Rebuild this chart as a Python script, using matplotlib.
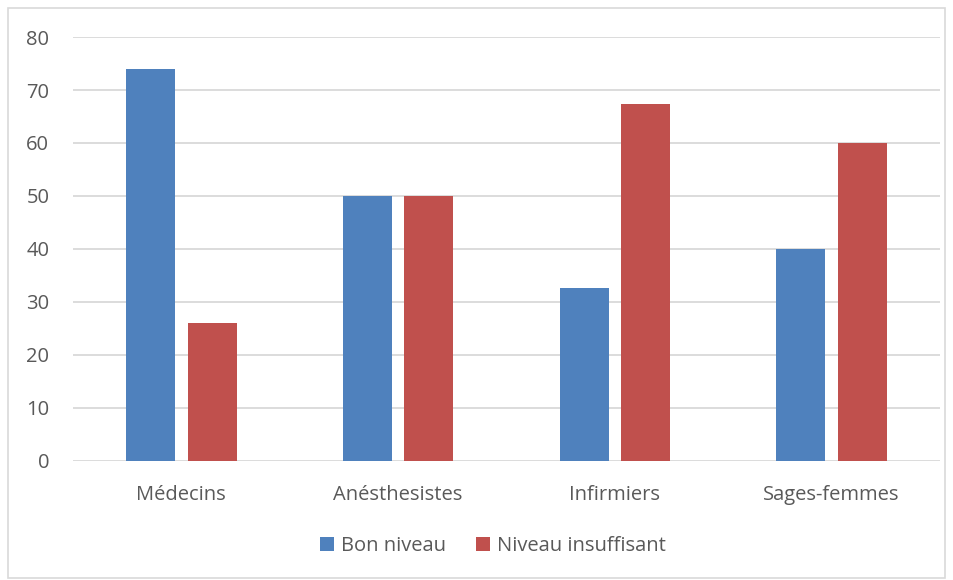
import numpy as np
import matplotlib.pyplot as plt
from matplotlib.patches import Rectangle

plt.rcParams['font.family'] = ['Open Sans', 'DejaVu Sans']

# Données
categories = ["Médecins", "Anésthesistes", "Infirmiers", "Sages-femmes"]
bon_niveau = [74, 50, 32.7, 40]
niveau_insuffisant = [26, 50, 67.3, 60]
series_names = ["Bon niveau", "Niveau insuffisant"]
yticks = [0, 10, 20, 30, 40, 50, 60, 70, 80]

bleu = "#4F81BD"
rouge = "#C0504D"
gris_texte = "#595959"
gris_grille = "#D9D9D9"

fig = plt.figure(figsize=(9.54, 5.8), dpi=100)
ax = fig.add_axes([0.0765, 0.2052, 0.9088, 0.7310])

x = np.arange(len(categories))
w = 0.226
dx = 0.142
ax.bar(x - dx, bon_niveau, w, color=bleu, label=series_names[0], zorder=3)
ax.bar(x + dx, niveau_insuffisant, w, color=rouge, label=series_names[1], zorder=3)

ax.set_xlim(-0.5, len(categories) - 0.5)
ax.set_ylim(0, 80)
ax.set_yticks(yticks)
ax.set_xticks(x)
ax.set_xticklabels(categories)
ax.grid(axis='y', color=gris_grille, linewidth=1.3, zorder=0)
for s in ax.spines.values():
    s.set_visible(False)
ax.tick_params(axis='both', length=0, labelsize=14.5, colors=gris_texte)
ax.tick_params(axis='y', pad=17)
ax.tick_params(axis='x', pad=17)

# cadre du graphique
fig.patches.append(Rectangle((8 / 954, 2 / 580), 937 / 954, 570 / 580,
                             transform=fig.transFigure, fill=False,
                             edgecolor=gris_grille, linewidth=1.2))

leg = fig.legend(loc='center', bbox_to_anchor=(493 / 954, 1 - 546 / 580), ncol=2,
                 frameon=False, fontsize=14.5, handlelength=0.7, handleheight=0.7,
                 handletextpad=0.35, columnspacing=1.5)
for t in leg.get_texts():
    t.set_color(gris_texte)

fig.savefig('out.png', dpi=100)
